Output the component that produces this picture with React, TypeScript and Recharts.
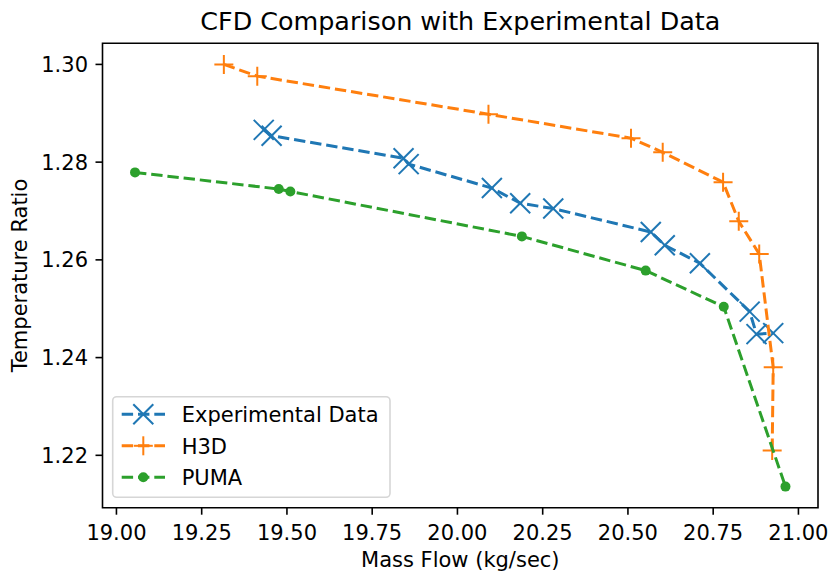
import { ScatterChart, Scatter, XAxis, YAxis, ReferenceArea } from "recharts";

const EXP_FLOW = [19.432, 19.455, 19.842, 19.857, 20.101, 20.184, 20.281, 20.567, 20.608, 20.711, 20.857, 20.877, 20.926];
const EXP_RATIO = [1.2866, 1.2854, 1.2808, 1.2796, 1.2747, 1.2716, 1.2705, 1.2657, 1.263, 1.2593, 1.2494, 1.2448, 1.245];

const H3D_FLOW = [19.315, 19.413, 20.091, 20.509, 20.602, 20.779, 20.825, 20.885, 20.926, 20.923];
const H3D_RATIO = [1.3, 1.2976, 1.2898, 1.2849, 1.282, 1.2759, 1.2679, 1.2612, 1.238, 1.221];

const PUMA_FLOW = [19.0545, 19.476, 19.51, 20.189, 20.552, 20.781, 20.962];
const PUMA_RATIO = [1.2779, 1.2745, 1.274, 1.2648, 1.2578, 1.2504, 1.2136];

const X_TICKS = [19, 19.25, 19.5, 19.75, 20, 20.25, 20.5, 20.75, 21];
const Y_TICKS = [1.22, 1.24, 1.26, 1.28, 1.3];

const BLUE = "#1f77b4";
const ORANGE = "#ff7f0e";
const GREEN = "#2ca02c";
const FONT = "'DejaVu Sans', sans-serif";
const FS = 21;
const DASH = "11.4 4.9";

const toPoints = (xs: number[], ys: number[]) => xs.map((x, i) => ({ x, y: ys[i] }));

// matplotlib-style 5% padding around the data
const pad = (vals: number[]): [number, number] => {
  const lo = Math.min(...vals);
  const hi = Math.max(...vals);
  const m = (hi - lo) * 0.05;
  return [lo - m, hi + m];
};
const X_DOMAIN = pad([...EXP_FLOW, ...H3D_FLOW, ...PUMA_FLOW]);
const Y_DOMAIN = pad([...EXP_RATIO, ...H3D_RATIO, ...PUMA_RATIO]);

function Cross({ cx, cy, color }: { cx: number; cy: number; color: string }) {
  const h = 10;
  return (
    <g stroke={color} strokeWidth={2}>
      <line x1={cx - h} y1={cy - h} x2={cx + h} y2={cy + h} />
      <line x1={cx - h} y1={cy + h} x2={cx + h} y2={cy - h} />
    </g>
  );
}

function Plus({ cx, cy, color }: { cx: number; cy: number; color: string }) {
  const h = 9.5;
  return (
    <g stroke={color} strokeWidth={2}>
      <line x1={cx - h} y1={cy} x2={cx + h} y2={cy} />
      <line x1={cx} y1={cy - h} x2={cx} y2={cy + h} />
    </g>
  );
}

function Dot({ cx, cy, color }: { cx: number; cy: number; color: string }) {
  return <circle cx={cx} cy={cy} r={5} fill={color} />;
}

const LEGEND = [
  { label: "Experimental Data", color: BLUE, Mark: Cross },
  { label: "H3D", color: ORANGE, Mark: Plus },
  { label: "PUMA", color: GREEN, Mark: Dot },
];

export default function App() {
  const tickStyle = { fill: "#000", fontSize: FS, fontFamily: FONT };
  return (
    <div style={{ position: "absolute", left: 0, top: 0, width: 830, height: 574, background: "#fff" }}>
      <ScatterChart width={830} height={574} margin={{ top: 43.3, right: 12, bottom: 36.3, left: 0 }}>
        <XAxis
          type="number"
          dataKey="x"
          domain={X_DOMAIN}
          ticks={X_TICKS}
          interval={0}
          allowDataOverflow
          tickFormatter={(v: number) => v.toFixed(2)}
          axisLine={false}
          tickLine={{ stroke: "#000", strokeWidth: 1.6 }}
          tickSize={7}
          tickMargin={10}
          height={30}
          tick={tickStyle}
        />
        <YAxis
          type="number"
          dataKey="y"
          domain={Y_DOMAIN}
          ticks={Y_TICKS}
          interval={0}
          allowDataOverflow
          tickFormatter={(v: number) => v.toFixed(2)}
          axisLine={false}
          tickLine={{ stroke: "#000", strokeWidth: 1.6 }}
          tickSize={7}
          tickMargin={7.5}
          width={102.5}
          tick={tickStyle}
        />
        <Scatter
          data={toPoints(EXP_FLOW, EXP_RATIO)}
          line={{ stroke: BLUE, strokeWidth: 3, strokeDasharray: DASH }}
          shape={(p: any) => <Cross cx={p.cx} cy={p.cy} color={BLUE} />}
          isAnimationActive={false}
        />
        <Scatter
          data={toPoints(H3D_FLOW, H3D_RATIO)}
          line={{ stroke: ORANGE, strokeWidth: 3, strokeDasharray: DASH }}
          shape={(p: any) => <Plus cx={p.cx} cy={p.cy} color={ORANGE} />}
          isAnimationActive={false}
        />
        <Scatter
          data={toPoints(PUMA_FLOW, PUMA_RATIO)}
          line={{ stroke: GREEN, strokeWidth: 3, strokeDasharray: DASH }}
          shape={(p: any) => <Dot cx={p.cx} cy={p.cy} color={GREEN} />}
          isAnimationActive={false}
        />
        <ReferenceArea
          x1={X_DOMAIN[0]}
          x2={X_DOMAIN[1]}
          y1={Y_DOMAIN[0]}
          y2={Y_DOMAIN[1]}
          fill="none"
          stroke="#000"
          strokeWidth={1.6}
        />
      </ScatterChart>
      <svg
        width={830}
        height={574}
        style={{ position: "absolute", left: 0, top: 0, pointerEvents: "none" }}
        fontFamily={FONT}
      >
        <text x={460.3} y={30} textAnchor="middle" fontSize={25.4} fill="#000">
          CFD Comparison with Experimental Data
        </text>
        <text x={460.3} y={567} textAnchor="middle" fontSize={FS} fill="#000">
          Mass Flow (kg/sec)
        </text>
        <text
          x={0}
          y={0}
          transform="translate(26.7 275.5) rotate(-90)"
          textAnchor="middle"
          fontSize={FS}
          fill="#000"
        >
          Temperature Ratio
        </text>
        <rect
          x={112.7}
          y={396.7}
          width={277.3}
          height={100.6}
          rx={4}
          fill="#fff"
          fillOpacity={0.8}
          stroke="#d6d6d6"
          strokeWidth={1.6}
        />
        {LEGEND.map((e, i) => {
          const cy = 414.3 + i * 31.5;
          const { Mark } = e;
          return (
            <g key={e.label}>
              <line x1={121.7} y1={cy} x2={165} y2={cy} stroke={e.color} strokeWidth={3} strokeDasharray={DASH} />
              <Mark cx={143.3} cy={cy} color={e.color} />
              <text x={181.7} y={cy + 8} fontSize={FS} fill="#000">
                {e.label}
              </text>
            </g>
          );
        })}
      </svg>
    </div>
  );
}
